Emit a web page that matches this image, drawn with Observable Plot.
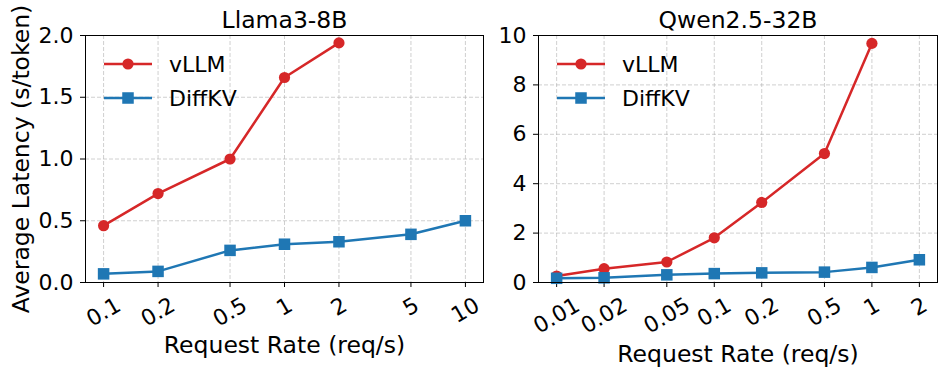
<!DOCTYPE html>
<html><head><meta charset="utf-8">
<script src="https://cdn.jsdelivr.net/npm/d3@7"></script>
<script src="https://cdn.jsdelivr.net/npm/@observablehq/plot@0.6"></script>
<style>
body{margin:0;background:#fff;font-family:"DejaVu Sans",sans-serif;}
#wrap{position:relative;width:947px;height:376px;overflow:hidden;}
#wrap > svg{position:absolute;top:0;}
</style></head><body><div id="wrap"></div>
<script>
// ---- data ----
const llamaRates = [0.1, 0.2, 0.5, 1, 2, 5, 10];
const llamaVllm = [0.46, 0.72, 1.00, 1.66, 1.94];
const llamaDiffkv = [0.07, 0.09, 0.26, 0.31, 0.33, 0.39, 0.50];
const llamaYTicks = [0, 0.5, 1, 1.5, 2];

const qwenRates = [0.01, 0.02, 0.05, 0.1, 0.2, 0.5, 1, 2];
const qwenVllm = [0.26, 0.56, 0.83, 1.81, 3.24, 5.22, 9.68];
const qwenDiffkv = [0.17, 0.19, 0.31, 0.36, 0.39, 0.42, 0.61, 0.92];
const qwenYTicks = [0, 2, 4, 6, 8, 10];

const seriesNames = ["vLLM", "DiffKV"];
const seriesColors = ["#d62728", "#1f77b4"];
const seriesSymbols = ["circle", "square"];
const titles = ["Llama3-8B", "Qwen2.5-32B"];
const xLabel = "Request Rate (req/s)";
const yLabel = "Average Latency (s/token)";

const FONT = "DejaVu Sans";
const TICK_FS = 22, LABEL_FS = 23.5;
const wrap = document.getElementById("wrap");

function labelWidth(s) {
  let w = 0;
  for (const c of s) w += (c === "." ? 0.318 : 0.636);
  return w * TICK_FS;
}

function panel({title, rates, series, yTicks, yDomain, yFormat, left, width, marginLeft, marginRight, ylabel, xlabelDy}) {
  const lo = d3.min(rates), hi = d3.max(rates);
  const pad = 0.05 * Math.log10(hi / lo);
  const xDomain = [lo / Math.pow(10, pad), hi * Math.pow(10, pad)];
  const grid = {stroke: "#b0b0b0", strokeOpacity: 0.6, strokeDasharray: "4,2", strokeWidth: 1};
  const marks = [
    Plot.gridX({ticks: rates, ...grid}),
    Plot.gridY({ticks: yTicks, ...grid}),
    Plot.axisY({ticks: yTicks, tickFormat: yFormat, tickSize: 5, tickPadding: 7, fontSize: TICK_FS, label: null}),
    Plot.axisX({ticks: rates, tickSize: 5, tickFormat: () => "", label: null}),
    ...rates.map(r => Plot.text([r], {
      x: d => d, text: d => String(d), frameAnchor: "bottom", rotate: -30,
      textAnchor: "middle", lineAnchor: "middle", fontSize: TICK_FS, fill: "black",
      dy: 13.6 + (labelWidth(String(r)) * 0.5 + 14.7) / 2
    }))
  ];
  series.forEach((vals, s) => {
    const rows = vals.map((v, i) => ({rate: rates[i], value: v}));
    marks.push(Plot.line(rows, {x: "rate", y: "value", stroke: seriesColors[s], strokeWidth: 2.5}));
    marks.push(Plot.dot(rows, {x: "rate", y: "value", fill: seriesColors[s], symbol: seriesSymbols[s], r: s === 0 ? 5.6 : 6.5}));
  });
  marks.push(Plot.frame({stroke: "black", strokeWidth: 1}));
  marks.push(Plot.text([title], {frameAnchor: "top", dy: -15, lineAnchor: "middle", fontSize: LABEL_FS, fill: "black"}));
  marks.push(Plot.text([xLabel], {frameAnchor: "bottom", dy: xlabelDy, lineAnchor: "middle", fontSize: LABEL_FS, fill: "black"}));
  if (ylabel) marks.push(Plot.text([ylabel], {frameAnchor: "left", dx: -64, rotate: -90, lineAnchor: "middle", textAnchor: "middle", fontSize: LABEL_FS, fill: "black"}));
  const svg = Plot.plot({
    width, height: 376,
    marginLeft, marginRight, marginTop: 35, marginBottom: 94,
    x: {type: "log", domain: xDomain},
    y: {domain: yDomain},
    style: {fontFamily: FONT, fontSize: TICK_FS + "px", color: "black", background: "transparent", overflow: "visible"},
    marks
  });
  svg.style.left = left + "px";
  wrap.appendChild(svg);
}

panel({title: titles[0], rates: llamaRates, series: [llamaVllm, llamaDiffkv], yTicks: llamaYTicks, yDomain: [0, 2],
  yFormat: d3.format(".1f"), left: 0, width: 484, marginLeft: 85, marginRight: 1, ylabel: yLabel, xlabelDy: 62.5});
panel({title: titles[1], rates: qwenRates, series: [qwenVllm, qwenDiffkv], yTicks: qwenYTicks, yDomain: [0, 10],
  yFormat: d3.format("d"), left: 484, width: 463, marginLeft: 54, marginRight: 10, ylabel: null, xlabelDy: 71.5});

// ---- legends (inside each frame, top-left) ----
const leg = d3.select(wrap).append("svg")
  .attr("width", 947).attr("height", 376)
  .style("position", "absolute").style("left", "0px").style("top", "0px")
  .style("font-family", FONT).style("font-size", TICK_FS + "px");
[85, 538].forEach(fx => {
  seriesNames.forEach((name, s) => {
    const y = 64 + s * 34;
    const g = leg.append("g");
    g.append("line").attr("x1", fx + 19).attr("x2", fx + 67).attr("y1", y).attr("y2", y)
      .attr("stroke", seriesColors[s]).attr("stroke-width", 2.5);
    g.append("path").attr("transform", `translate(${fx + 43},${y})`)
      .attr("d", d3.symbol(s === 0 ? d3.symbolCircle : d3.symbolSquare, s === 0 ? Math.PI * 5.6 * 5.6 : Math.PI * 6.5 * 6.5)())
      .attr("fill", seriesColors[s]);
    g.append("text").attr("x", fx + 84).attr("y", y).attr("dy", "0.35em").attr("fill", "black").text(name);
  });
});
</script></body></html>
